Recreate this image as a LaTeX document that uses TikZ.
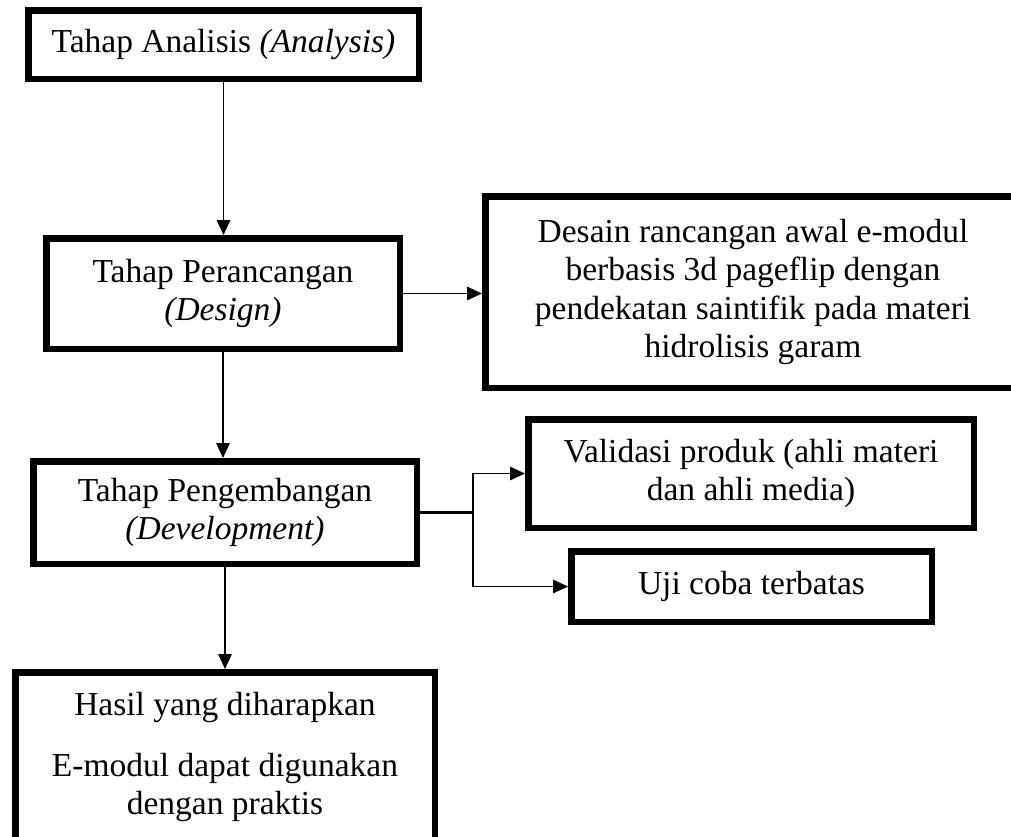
\documentclass[tikz,border=0pt]{standalone}
\usepackage{fontspec}
\setmainfont{Liberation Serif}
\usetikzlibrary{arrows.meta}
\begin{document}
\begin{tikzpicture}[x=1pt,y=-1pt,
  box/.style={draw, line width=6.5pt, align=center, inner sep=0pt,
    font=\fontsize{33.5}{38.5}\selectfont},
  conn/.style={line width=1.5pt},
  arr/.style={conn, -{Triangle[length=15pt,width=13.5pt]}}]
\useasboundingbox (0,0) rectangle (1011,836);
\begin{scope}
\clip (0,0) rectangle (1011,836);
\node[box, minimum width=390.5pt, minimum height=68.5pt] (b1) at (223.5,44.5)
  {Tahap Analisis \textit{(Analysis)}};
\node[box, minimum width=353.5pt, minimum height=110.5pt] (b2) at (223,293.5)
  {Tahap Perancangan\\\textit{(Design)}};
\node[box, minimum width=535.5pt, minimum height=191.5pt] (b3) at (753,292)
  {Desain rancangan awal e-modul\\berbasis 3d pageflip dengan\\pendekatan saintifik pada materi\\hidrolisis garam};
\node[box, minimum width=383.5pt, minimum height=102.5pt] (b4) at (225,512.5)
  {Tahap Pengembangan\\\textit{(Development)}};
\node[box, minimum width=445.5pt, minimum height=108.5pt] (b5) at (751,473.5)
  {Validasi produk (ahli materi\\dan ahli media)};
\node[box, minimum width=360.5pt, minimum height=70.5pt] (b6) at (751.5,586.5)
  {Uji coba terbatas};
\node[box, minimum width=419.5pt, minimum height=169.5pt] (b7) at (225,757)
  {Hasil yang diharapkan\\[22pt]E-modul dapat digunakan\\dengan praktis};

\draw[arr] (b1.south) -- (b1.south |- b2.north);
\draw[arr] (b2.east) -- (b2.east -| b3.west);
\draw[arr] (b2.south) -- (b2.south |- b4.north);
\draw[conn, line width=2.2pt] (b4.east) -- ++(53,0) coordinate (j);
\draw[arr] (j) |- (b5.west);
\draw[arr] (j) |- (b6.west);
\draw[arr] (b4.south) -- (b4.south |- b7.north);
\end{scope}
\end{tikzpicture}
\end{document}
